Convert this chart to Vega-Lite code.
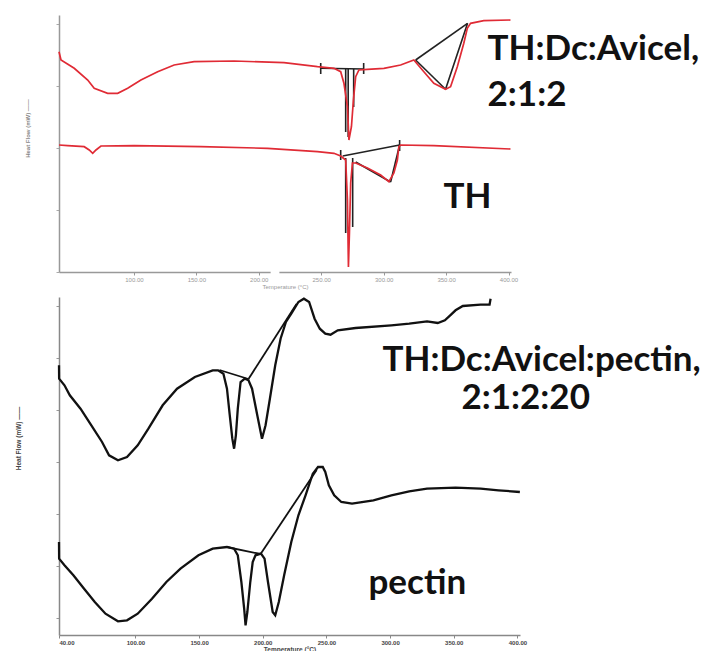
{
  "$schema": "https://vega.github.io/schema/vega-lite/v6.json",
  "background": "white",
  "padding": {"left": 15, "top": 15, "right": 0, "bottom": 0},
  "autosize": {"type": "pad"},
  "config": {"view": {"stroke": null}, "concat": {"spacing": 5}, "axis": {"grid": false, "labelFont": "Liberation Sans", "titleFont": "Liberation Sans"}},
  "datasets": {
    "top": [
      {"s": "TH:Dc:Avicel", "T": 40, "v": 22.03}, {"s": "TH:Dc:Avicel", "T": 41.6, "v": 21.2}, {"s": "TH:Dc:Avicel", "T": 52.2, "v": 20.37}, {"s": "TH:Dc:Avicel", "T": 63.0, "v": 19.2}, {"s": "TH:Dc:Avicel", "T": 68.2, "v": 18.37}, {"s": "TH:Dc:Avicel", "T": 79.0, "v": 17.87}, {"s": "TH:Dc:Avicel", "T": 87.0, "v": 17.87}, {"s": "TH:Dc:Avicel", "T": 95.0, "v": 18.37}, {"s": "TH:Dc:Avicel", "T": 105.6, "v": 19.2}, {"s": "TH:Dc:Avicel", "T": 119.0, "v": 20.03}, {"s": "TH:Dc:Avicel", "T": 132.2, "v": 20.7}, {"s": "TH:Dc:Avicel", "T": 148.2, "v": 21.03}, {"s": "TH:Dc:Avicel", "T": 180.2, "v": 21.1}, {"s": "TH:Dc:Avicel", "T": 220.2, "v": 20.93}, {"s": "TH:Dc:Avicel", "T": 247.0, "v": 20.53}, {"s": "TH:Dc:Avicel", "T": 260.2, "v": 20.37}, {"s": "TH:Dc:Avicel", "T": 265.6, "v": 20.03}, {"s": "TH:Dc:Avicel", "T": 268.2, "v": 18.87}, {"s": "TH:Dc:Avicel", "T": 271.0, "v": 16.53}, {"s": "TH:Dc:Avicel", "T": 272.2, "v": 13.2}, {"s": "TH:Dc:Avicel", "T": 274.2, "v": 14.53}, {"s": "TH:Dc:Avicel", "T": 275.8, "v": 17.2}, {"s": "TH:Dc:Avicel", "T": 277.6, "v": 19.53}, {"s": "TH:Dc:Avicel", "T": 280.2, "v": 20.2}, {"s": "TH:Dc:Avicel", "T": 287.0, "v": 20.27}, {"s": "TH:Dc:Avicel", "T": 300.2, "v": 20.37}, {"s": "TH:Dc:Avicel", "T": 313.6, "v": 20.7}, {"s": "TH:Dc:Avicel", "T": 324.2, "v": 21.2}, {"s": "TH:Dc:Avicel", "T": 332.2, "v": 20.03}, {"s": "TH:Dc:Avicel", "T": 340.2, "v": 18.87}, {"s": "TH:Dc:Avicel", "T": 349.6, "v": 18.27}, {"s": "TH:Dc:Avicel", "T": 353.6, "v": 18.53}, {"s": "TH:Dc:Avicel", "T": 359.0, "v": 20.53}, {"s": "TH:Dc:Avicel", "T": 364.2, "v": 22.87}, {"s": "TH:Dc:Avicel", "T": 367.0, "v": 24.37}, {"s": "TH:Dc:Avicel", "T": 369.6, "v": 24.87}, {"s": "TH:Dc:Avicel", "T": 380.2, "v": 25.13}, {"s": "TH:Dc:Avicel", "T": 401.6, "v": 25.2},
      {"s": "TH", "T": 40, "v": 12.7}, {"s": "TH", "T": 47.0, "v": 12.63}, {"s": "TH", "T": 60.2, "v": 12.53}, {"s": "TH", "T": 64.2, "v": 12.2}, {"s": "TH", "T": 67.0, "v": 11.87}, {"s": "TH", "T": 69.6, "v": 12.2}, {"s": "TH", "T": 73.6, "v": 12.6}, {"s": "TH", "T": 100.2, "v": 12.63}, {"s": "TH", "T": 153.6, "v": 12.53}, {"s": "TH", "T": 207.0, "v": 12.37}, {"s": "TH", "T": 247.0, "v": 12.03}, {"s": "TH", "T": 260.2, "v": 11.87}, {"s": "TH", "T": 265.6, "v": 11.6}, {"s": "TH", "T": 269.6, "v": 11.2}, {"s": "TH", "T": 271.0, "v": 7.2}, {"s": "TH", "T": 271.4, "v": 3.9}, {"s": "TH", "T": 271.8, "v": 0.5}, {"s": "TH", "T": 272.6, "v": 3.9}, {"s": "TH", "T": 273.6, "v": 8.9}, {"s": "TH", "T": 275.0, "v": 10.9}, {"s": "TH", "T": 277.6, "v": 10.9}, {"s": "TH", "T": 287.0, "v": 10.4}, {"s": "TH", "T": 297.6, "v": 9.7}, {"s": "TH", "T": 304.2, "v": 9.03}, {"s": "TH", "T": 308.2, "v": 9.9}, {"s": "TH", "T": 311.0, "v": 11.2}, {"s": "TH", "T": 312.2, "v": 12.53}, {"s": "TH", "T": 313.6, "v": 12.7}, {"s": "TH", "T": 340.2, "v": 12.63}, {"s": "TH", "T": 401.6, "v": 12.3},
      {"s": "t1", "T": 249.6, "v": 20.37}, {"s": "t1", "T": 284.0, "v": 20.3},
      {"s": "t2", "T": 249.6, "v": 20.9}, {"s": "t2", "T": 249.6, "v": 19.8},
      {"s": "t3", "T": 284.0, "v": 20.9}, {"s": "t3", "T": 284.0, "v": 19.8},
      {"s": "t4", "T": 269.6, "v": 20.3}, {"s": "t4", "T": 269.6, "v": 14.0},
      {"s": "t5", "T": 271.6, "v": 20.3}, {"s": "t5", "T": 271.6, "v": 13.5},
      {"s": "t6", "T": 276.0, "v": 20.3}, {"s": "t6", "T": 276.0, "v": 16.5},
      {"s": "t7", "T": 325.6, "v": 21.2}, {"s": "t7", "T": 367.2, "v": 24.87},
      {"s": "t8", "T": 325.6, "v": 21.2}, {"s": "t8", "T": 349.6, "v": 18.27},
      {"s": "t9", "T": 349.6, "v": 18.27}, {"s": "t9", "T": 367.2, "v": 24.87},
      {"s": "t10", "T": 267.2, "v": 11.6}, {"s": "t10", "T": 312.8, "v": 12.7},
      {"s": "t11", "T": 277.6, "v": 11.0}, {"s": "t11", "T": 305.6, "v": 9.0},
      {"s": "t12", "T": 305.6, "v": 9.0}, {"s": "t12", "T": 312.8, "v": 12.7},
      {"s": "t13", "T": 269.6, "v": 11.4}, {"s": "t13", "T": 269.6, "v": 3.9},
      {"s": "t14", "T": 275.2, "v": 11.4}, {"s": "t14", "T": 275.2, "v": 4.5},
      {"s": "t15", "T": 265.6, "v": 12.2}, {"s": "t15", "T": 265.6, "v": 11.2},
      {"s": "t16", "T": 312.8, "v": 13.2}, {"s": "t16", "T": 312.8, "v": 12.1}
    ],
    "bottom": [
      {"s": "TH:Dc:Avicel:pectin", "T": 40, "v": 26.97}, {"s": "TH:Dc:Avicel:pectin", "T": 40.1, "v": 25.63}, {"s": "TH:Dc:Avicel:pectin", "T": 44.3, "v": 24.97}, {"s": "TH:Dc:Avicel:pectin", "T": 48.5, "v": 23.97}, {"s": "TH:Dc:Avicel:pectin", "T": 56.9, "v": 22.63}, {"s": "TH:Dc:Avicel:pectin", "T": 65.4, "v": 20.97}, {"s": "TH:Dc:Avicel:pectin", "T": 73.8, "v": 19.3}, {"s": "TH:Dc:Avicel:pectin", "T": 79.3, "v": 17.97}, {"s": "TH:Dc:Avicel:pectin", "T": 86.3, "v": 17.47}, {"s": "TH:Dc:Avicel:pectin", "T": 93.4, "v": 17.8}, {"s": "TH:Dc:Avicel:pectin", "T": 101.8, "v": 18.97}, {"s": "TH:Dc:Avicel:pectin", "T": 110.2, "v": 20.63}, {"s": "TH:Dc:Avicel:pectin", "T": 121.4, "v": 22.97}, {"s": "TH:Dc:Avicel:pectin", "T": 132.7, "v": 24.63}, {"s": "TH:Dc:Avicel:pectin", "T": 146.7, "v": 25.8}, {"s": "TH:Dc:Avicel:pectin", "T": 160.7, "v": 26.47}, {"s": "TH:Dc:Avicel:pectin", "T": 164.9, "v": 26.47}, {"s": "TH:Dc:Avicel:pectin", "T": 169.1, "v": 26.13}, {"s": "TH:Dc:Avicel:pectin", "T": 171.9, "v": 24.63}, {"s": "TH:Dc:Avicel:pectin", "T": 174.1, "v": 21.97}, {"s": "TH:Dc:Avicel:pectin", "T": 176.1, "v": 19.63}, {"s": "TH:Dc:Avicel:pectin", "T": 177.5, "v": 18.63}, {"s": "TH:Dc:Avicel:pectin", "T": 178.9, "v": 19.97}, {"s": "TH:Dc:Avicel:pectin", "T": 180.4, "v": 22.63}, {"s": "TH:Dc:Avicel:pectin", "T": 182.6, "v": 25.3}, {"s": "TH:Dc:Avicel:pectin", "T": 185.9, "v": 25.63}, {"s": "TH:Dc:Avicel:pectin", "T": 188.8, "v": 25.47}, {"s": "TH:Dc:Avicel:pectin", "T": 191.6, "v": 24.63}, {"s": "TH:Dc:Avicel:pectin", "T": 195.7, "v": 21.97}, {"s": "TH:Dc:Avicel:pectin", "T": 199.4, "v": 19.63}, {"s": "TH:Dc:Avicel:pectin", "T": 202.2, "v": 20.97}, {"s": "TH:Dc:Avicel:pectin", "T": 205.6, "v": 23.63}, {"s": "TH:Dc:Avicel:pectin", "T": 209.8, "v": 26.97}, {"s": "TH:Dc:Avicel:pectin", "T": 214.0, "v": 29.63}, {"s": "TH:Dc:Avicel:pectin", "T": 218.2, "v": 31.3}, {"s": "TH:Dc:Avicel:pectin", "T": 222.4, "v": 32.13}, {"s": "TH:Dc:Avicel:pectin", "T": 228.0, "v": 33.3}, {"s": "TH:Dc:Avicel:pectin", "T": 232.3, "v": 33.63}, {"s": "TH:Dc:Avicel:pectin", "T": 236.4, "v": 33.3}, {"s": "TH:Dc:Avicel:pectin", "T": 240.7, "v": 31.63}, {"s": "TH:Dc:Avicel:pectin", "T": 244.8, "v": 30.63}, {"s": "TH:Dc:Avicel:pectin", "T": 249.1, "v": 30.13}, {"s": "TH:Dc:Avicel:pectin", "T": 253.2, "v": 30.03}, {"s": "TH:Dc:Avicel:pectin", "T": 258.9, "v": 30.47}, {"s": "TH:Dc:Avicel:pectin", "T": 272.9, "v": 30.7}, {"s": "TH:Dc:Avicel:pectin", "T": 301.0, "v": 30.97}, {"s": "TH:Dc:Avicel:pectin", "T": 315.0, "v": 31.13}, {"s": "TH:Dc:Avicel:pectin", "T": 329.0, "v": 31.37}, {"s": "TH:Dc:Avicel:pectin", "T": 337.4, "v": 31.2}, {"s": "TH:Dc:Avicel:pectin", "T": 343.0, "v": 31.47}, {"s": "TH:Dc:Avicel:pectin", "T": 347.2, "v": 31.97}, {"s": "TH:Dc:Avicel:pectin", "T": 351.4, "v": 32.47}, {"s": "TH:Dc:Avicel:pectin", "T": 357.1, "v": 32.9}, {"s": "TH:Dc:Avicel:pectin", "T": 371.0, "v": 33.03}, {"s": "TH:Dc:Avicel:pectin", "T": 378.1, "v": 33.03}, {"s": "TH:Dc:Avicel:pectin", "T": 378.9, "v": 33.63},
      {"s": "pectin", "T": 40, "v": 9.3}, {"s": "pectin", "T": 40.1, "v": 7.63}, {"s": "pectin", "T": 44.3, "v": 6.97}, {"s": "pectin", "T": 51.3, "v": 5.97}, {"s": "pectin", "T": 59.7, "v": 4.63}, {"s": "pectin", "T": 68.1, "v": 3.3}, {"s": "pectin", "T": 76.5, "v": 2.13}, {"s": "pectin", "T": 86.3, "v": 1.37}, {"s": "pectin", "T": 93.4, "v": 1.47}, {"s": "pectin", "T": 101.8, "v": 2.13}, {"s": "pectin", "T": 113.0, "v": 3.63}, {"s": "pectin", "T": 124.3, "v": 5.3}, {"s": "pectin", "T": 135.4, "v": 6.63}, {"s": "pectin", "T": 149.5, "v": 7.97}, {"s": "pectin", "T": 160.7, "v": 8.63}, {"s": "pectin", "T": 171.9, "v": 8.8}, {"s": "pectin", "T": 177.5, "v": 8.63}, {"s": "pectin", "T": 180.4, "v": 7.97}, {"s": "pectin", "T": 183.2, "v": 5.3}, {"s": "pectin", "T": 185.4, "v": 2.63}, {"s": "pectin", "T": 186.5, "v": 0.97}, {"s": "pectin", "T": 187.9, "v": 2.3}, {"s": "pectin", "T": 190.2, "v": 5.3}, {"s": "pectin", "T": 192.1, "v": 7.3}, {"s": "pectin", "T": 194.3, "v": 7.97}, {"s": "pectin", "T": 198.6, "v": 8.13}, {"s": "pectin", "T": 201.4, "v": 7.63}, {"s": "pectin", "T": 204.1, "v": 5.3}, {"s": "pectin", "T": 207.8, "v": 2.3}, {"s": "pectin", "T": 209.8, "v": 1.97}, {"s": "pectin", "T": 212.6, "v": 3.3}, {"s": "pectin", "T": 216.8, "v": 5.97}, {"s": "pectin", "T": 222.4, "v": 9.3}, {"s": "pectin", "T": 228.0, "v": 11.97}, {"s": "pectin", "T": 233.6, "v": 13.97}, {"s": "pectin", "T": 239.3, "v": 16.13}, {"s": "pectin", "T": 243.4, "v": 16.8}, {"s": "pectin", "T": 247.1, "v": 16.8}, {"s": "pectin", "T": 249.1, "v": 16.3}, {"s": "pectin", "T": 251.9, "v": 14.97}, {"s": "pectin", "T": 256.1, "v": 13.97}, {"s": "pectin", "T": 261.7, "v": 13.3}, {"s": "pectin", "T": 270.1, "v": 13.13}, {"s": "pectin", "T": 286.9, "v": 13.47}, {"s": "pectin", "T": 301.0, "v": 13.97}, {"s": "pectin", "T": 315.0, "v": 14.37}, {"s": "pectin", "T": 329.0, "v": 14.63}, {"s": "pectin", "T": 351.4, "v": 14.73}, {"s": "pectin", "T": 371.1, "v": 14.63}, {"s": "pectin", "T": 385.1, "v": 14.47}, {"s": "pectin", "T": 401.9, "v": 14.3},
      {"s": "b1", "T": 166.0, "v": 26.5}, {"s": "b1", "T": 188.8, "v": 25.6},
      {"s": "b2", "T": 188.8, "v": 25.6}, {"s": "b2", "T": 226.5, "v": 33.1},
      {"s": "b3", "T": 171.6, "v": 8.8}, {"s": "b3", "T": 198.3, "v": 8.1},
      {"s": "b4", "T": 198.3, "v": 8.1}, {"s": "b4", "T": 242.3, "v": 16.5}
    ],
    "topText": [
      {"label": "TH:Dc:Avicel,", "T": 383.2, "v": 21.2},
      {"label": "2:1:2", "T": 383.2, "v": 16.6},
      {"label": "TH", "T": 348.0, "v": 6.4}
    ],
    "bottomText": [
      {"label": "TH:Dc:Avicel:pectin,", "T": 294.0, "v": 26.4},
      {"label": "2:1:2:20", "T": 356.0, "v": 22.6},
      {"label": "pectin", "T": 283.0, "v": 4.1}
    ]
  },
  "vconcat": [
    {
      "width": 452,
      "height": 257,
      "layer": [
        {
          "data": {"name": "top"},
          "transform": [{"filter": {"field": "s", "oneOf": ["t1","t2","t3","t4","t5","t6","t7","t8","t9","t10","t11","t12","t13","t14","t15","t16"]}}],
          "mark": {"type": "line", "color": "#222", "strokeWidth": 1.6},
          "encoding": {
            "x": {"field": "T", "type": "quantitative", "scale": {"domain": [40, 402], "nice": false, "zero": false},
              "axis": {"values": [100,150,200,250,300,350,400], "format": ".2f", "labelFontSize": 6, "labelColor": "#999", "tickSize": 3, "tickColor": "#999", "domainColor": "#999", "domainWidth": 1.5, "labelPadding": 1, "title": "Temperature (°C)", "titleFontSize": 6, "titleColor": "#999", "titleFontWeight": "normal", "titlePadding": 1}},
            "y": {"field": "v", "type": "quantitative", "scale": {"domain": [0, 25.7], "nice": false, "zero": false},
              "axis": {"values": [0,3.1,6.2,9.3,12.4,15.5,18.6,21.7,24.8], "labels": false, "tickSize": 3, "tickColor": "#aaa", "domainColor": "#999", "domainWidth": 1.5, "title": "Heat Flow (mW) ——", "titleFontSize": 6, "titleColor": "#888", "titleFontWeight": "bold", "titleX": -29, "titleY": 113}},
            "detail": {"field": "s"},
            "order": {"value": null}
          }
        },
        {
          "data": {"name": "top"},
          "transform": [{"filter": {"field": "s", "oneOf": ["TH:Dc:Avicel", "TH"]}}],
          "mark": {"type": "line", "color": "#e02b35", "strokeWidth": 1.7},
          "encoding": {
            "x": {"field": "T", "type": "quantitative"},
            "y": {"field": "v", "type": "quantitative"},
            "detail": {"field": "s"},
            "order": {"value": null}
          }
        },
        {
          "data": {"values": [{"T1": 209.5, "T2": 216.5, "v": 0}]},
          "mark": {"type": "rule", "color": "white", "strokeWidth": 4},
          "encoding": {
            "x": {"field": "T1", "type": "quantitative"},
            "x2": {"field": "T2"},
            "y": {"field": "v", "type": "quantitative"}
          }
        },
        {
          "data": {"name": "topText"},
          "mark": {"type": "text", "font": "Lato", "fontWeight": "bold", "fontSize": 35, "align": "left", "baseline": "alphabetic", "color": "#111"},
          "encoding": {
            "x": {"field": "T", "type": "quantitative"},
            "y": {"field": "v", "type": "quantitative"},
            "text": {"field": "label"}
          }
        }
      ]
    },
    {
      "width": 461,
      "height": 338,
      "layer": [
        {
          "data": {"name": "bottom"},
          "transform": [{"filter": {"field": "s", "oneOf": ["b1","b2","b3","b4"]}}],
          "mark": {"type": "line", "color": "#111", "strokeWidth": 1.8},
          "encoding": {
            "x": {"field": "T", "type": "quantitative", "scale": {"domain": [40, 402], "nice": false, "zero": false},
              "axis": {"values": [40,100,150,200,250,300,350,400], "format": ".2f", "labelFontSize": 6, "labelFontWeight": "bold", "labelColor": "#444", "tickSize": 3, "tickColor": "#888", "domainColor": "#888", "domainWidth": 1.5, "labelPadding": 1, "title": "Temperature (°C)", "titleFontSize": 6.5, "titleColor": "#444", "titleFontWeight": "bold", "titlePadding": 1}},
            "y": {"field": "v", "type": "quantitative", "scale": {"domain": [0, 33.8], "nice": false, "zero": false},
              "axis": {"values": [1.7,4.3,6.9,9.5,12.1,14.7,17.3,19.9,22.5,25.1,27.7,30.3,32.9], "labels": false, "tickSize": 3, "tickColor": "#999", "domainColor": "#888", "domainWidth": 1.5, "title": "Heat Flow (mW) ——", "titleFontSize": 6.5, "titleColor": "#444", "titleFontWeight": "bold", "titleX": -38, "titleY": 141}},
            "detail": {"field": "s"},
            "order": {"value": null}
          }
        },
        {
          "data": {"name": "bottom"},
          "transform": [{"filter": {"field": "s", "oneOf": ["TH:Dc:Avicel:pectin", "pectin"]}}],
          "mark": {"type": "line", "color": "#111", "strokeWidth": 2.3},
          "encoding": {
            "x": {"field": "T", "type": "quantitative"},
            "y": {"field": "v", "type": "quantitative"},
            "detail": {"field": "s"},
            "order": {"value": null}
          }
        },
        {
          "data": {"name": "bottomText"},
          "mark": {"type": "text", "font": "Lato", "fontWeight": "bold", "fontSize": 35, "align": "left", "baseline": "alphabetic", "color": "#111"},
          "encoding": {
            "x": {"field": "T", "type": "quantitative"},
            "y": {"field": "v", "type": "quantitative"},
            "text": {"field": "label"}
          }
        }
      ]
    }
  ]
}
